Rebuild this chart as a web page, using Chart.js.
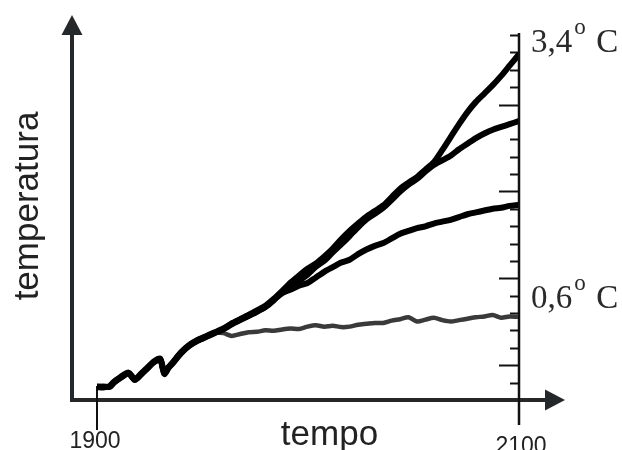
<!DOCTYPE html>
<html>
<head>
<meta charset="utf-8">
<script src="https://cdn.jsdelivr.net/npm/chart.js@4"></script>
<style>
html,body{margin:0;padding:0;background:#fff;}
canvas{display:block;}
</style>
</head>
<body>
<canvas id="c" width="622" height="450"></canvas>
<script>
// ---- data ----
const YEARS = [1900,1903,1906,1908,1911,1915,1918,1921,1924,1927,1930,1932,1934,1936,1940,1944,1948,1952,1956,1960,
  1964,1968,1972,1976,1980,1984,1988,1992,1996,2000,2004,2008,2012,2016,2020,2024,2028,2032,2036,2040,
  2044,2048,2052,2056,2060,2064,2068,2072,2076,2080,2084,2088,2092,2096,2100];

const LINE_HIGH = [-0.16,-0.165,-0.15,-0.105,-0.055,-0.005,-0.075,-0.015,0.05,0.115,0.145,-0.005,0.055,0.105,0.215,0.295,0.35,0.39,0.43,0.47,
  0.525,0.57,0.615,0.665,0.715,0.79,0.875,0.965,1.04,1.115,1.17,1.245,1.33,1.43,1.52,1.60,1.675,1.735,1.795,1.885,
  1.975,2.04,2.10,2.18,2.26,2.39,2.53,2.67,2.80,2.91,3.00,3.09,3.19,3.30,3.41];

const LINE_MIDHIGH = [-0.16,-0.155,-0.16,-0.115,-0.065,-0.015,-0.085,-0.025,0.04,0.105,0.135,-0.02,0.045,0.095,0.205,0.285,0.34,0.38,0.42,0.46,
  0.515,0.56,0.605,0.65,0.70,0.775,0.865,0.915,0.985,1.05,1.135,1.20,1.29,1.375,1.465,1.56,1.645,1.705,1.77,1.855,
  1.945,2.02,2.08,2.16,2.23,2.28,2.33,2.40,2.46,2.52,2.57,2.61,2.64,2.67,2.70];

const LINE_MIDLOW = [-0.155,-0.16,-0.155,-0.11,-0.06,-0.01,-0.08,-0.02,0.045,0.11,0.14,-0.01,0.05,0.10,0.21,0.29,0.345,0.385,0.425,0.465,
  0.52,0.565,0.61,0.655,0.705,0.78,0.85,0.89,0.93,0.96,1.02,1.08,1.13,1.18,1.21,1.27,1.32,1.36,1.39,1.44,
  1.49,1.52,1.55,1.57,1.60,1.62,1.64,1.67,1.70,1.72,1.74,1.76,1.77,1.79,1.80];

const LINE_LOW = [-0.155,-0.16,-0.155,-0.11,-0.06,-0.01,-0.08,-0.02,0.045,0.11,0.14,-0.01,0.05,0.10,0.21,0.29,0.345,0.385,0.425,0.42,
  0.39,0.41,0.43,0.435,0.45,0.445,0.46,0.47,0.465,0.49,0.505,0.49,0.50,0.485,0.49,0.51,0.52,0.53,0.53,0.555,
  0.57,0.59,0.545,0.565,0.585,0.56,0.545,0.56,0.575,0.59,0.60,0.615,0.585,0.60,0.595];

const X_TICKS = [1900, 2100];
const X_TICK_LABELS = ['1900', '2100'];
const RIGHT_TICKS = [-0.113,0.074,0.261,0.449,0.636,0.823,1.010,1.197,1.384,1.571,1.759,1.946,2.133,2.320,2.507,2.694,2.881,3.069,3.256,3.443,3.630];
const RIGHT_MAJOR = [0.074,1.010,1.946,2.881];
const TEMP_LABELS = ['3,4', '0,6'];
const TEMP_LABEL_VALUES = [3.4, 0.6];
const X_TITLE = 'tempo';
const Y_TITLE = 'temperatura';

const toPts = arr => YEARS.map((x, i) => ({x, y: arr[i]}));

const AXIS = '#25282b';

const decor = {
  id: 'decor',
  beforeDatasetsDraw(chart) {
    const ctx = chart.ctx, xs = chart.scales.x, ys = chart.scales.y, a = chart.chartArea;
    const x0 = a.left - 25;
    const yb = a.bottom;
    ctx.save();
    ctx.strokeStyle = AXIS; ctx.fillStyle = AXIS;
    ctx.lineWidth = 4;
    ctx.beginPath(); ctx.moveTo(x0, yb + 2); ctx.lineTo(x0, a.top); ctx.stroke();
    ctx.beginPath(); ctx.moveTo(x0, a.top - 20); ctx.lineTo(x0 - 10.5, a.top); ctx.lineTo(x0 + 10.5, a.top); ctx.closePath(); ctx.fill();
    const xe = xs.getPixelForValue(2100) + 27;
    ctx.beginPath(); ctx.moveTo(x0 - 2, yb); ctx.lineTo(xe, yb); ctx.stroke();
    ctx.beginPath(); ctx.moveTo(xe + 20, yb); ctx.lineTo(xe, yb - 10.5); ctx.lineTo(xe, yb + 10.5); ctx.closePath(); ctx.fill();
    ctx.strokeStyle = '#111'; ctx.lineWidth = 2;
    const px1900 = xs.getPixelForValue(X_TICKS[0]);
    ctx.beginPath(); ctx.moveTo(px1900, ys.getPixelForValue(LINE_HIGH[0]) - 1); ctx.lineTo(px1900, yb + 30); ctx.stroke();
    const px2100 = xs.getPixelForValue(X_TICKS[1]);
    ctx.lineWidth = 2.5;
    ctx.beginPath(); ctx.moveTo(px2100 + 1, ys.getPixelForValue(RIGHT_TICKS[RIGHT_TICKS.length - 1]) - 2); ctx.lineTo(px2100 + 1, yb + 25); ctx.stroke();
    ctx.lineWidth = 2;
    RIGHT_TICKS.forEach(v => {
      const py = Math.round(ys.getPixelForValue(v)) + 0.5;
      const len = RIGHT_MAJOR.includes(v) ? 20 : 9;
      ctx.beginPath(); ctx.moveTo(px2100 + 1, py); ctx.lineTo(px2100 + 1 - len, py); ctx.stroke();
    });
    ctx.restore();
  },
  afterDraw(chart) {
    const ctx = chart.ctx, xs = chart.scales.x, ys = chart.scales.y, a = chart.chartArea;
    ctx.save();
    ctx.fillStyle = '#222';
    ctx.textAlign = 'center'; ctx.textBaseline = 'alphabetic';
    ctx.font = '23px "Liberation Sans", Arial, sans-serif';
    ctx.fillText(X_TICK_LABELS[0], xs.getPixelForValue(X_TICKS[0]) - 2, a.bottom + 48);
    ctx.fillText(X_TICK_LABELS[1], xs.getPixelForValue(X_TICKS[1]) + 3, a.bottom + 53);
    ctx.font = '35px "Liberation Sans", Arial, sans-serif';
    ctx.fillText(X_TITLE, (a.left + a.right) / 2 + 22, a.bottom + 45);
    ctx.save();
    ctx.translate(38, 206); ctx.rotate(-Math.PI / 2);
    ctx.fillText(Y_TITLE, 0, 0);
    ctx.restore();
    ctx.fillStyle = '#2a2a2a';
    ctx.textAlign = 'left';
    const offs = [-4, -8];
    TEMP_LABELS.forEach((t, i) => {
      const base = ys.getPixelForValue(TEMP_LABEL_VALUES[i]) + offs[i];
      const x = xs.getPixelForValue(2100) + 13;
      ctx.font = '33px "Liberation Serif", "Times New Roman", serif';
      ctx.fillText(t, x, base);
      const w = ctx.measureText(t).width;
      ctx.font = '23px "Liberation Serif", "Times New Roman", serif';
      ctx.fillText('o', x + w + 2, base - 18);
      ctx.font = '33px "Liberation Serif", "Times New Roman", serif';
      ctx.fillText('C', x + w + 24, base);
    });
    ctx.restore();
  }
};

new Chart(document.getElementById('c'), {
  type: 'line',
  data: {
    datasets: [
      {data: toPts(LINE_LOW), borderColor: '#3a3a3a', borderWidth: 4.5, order: 4},
      {data: toPts(LINE_MIDLOW), borderColor: '#000', borderWidth: 6, order: 3},
      {data: toPts(LINE_MIDHIGH), borderColor: '#000', borderWidth: 6, order: 2},
      {data: toPts(LINE_HIGH), borderColor: '#000', borderWidth: 6, order: 1}
    ]
  },
  options: {
    responsive: false,
    devicePixelRatio: 1,
    animation: false,
    layout: {padding: {left: 97, right: 104, top: 35, bottom: 50}},
    elements: {point: {radius: 0}, line: {tension: 0.25, borderJoinStyle: 'round', borderCapStyle: 'round'}},
    plugins: {legend: {display: false}, tooltip: {enabled: false}},
    scales: {
      x: {type: 'linear', min: 1900, max: 2100, display: false},
      y: {type: 'linear', min: -0.3, max: 3.63, display: false}
    }
  },
  plugins: [decor]
});
</script>
</body>
</html>
